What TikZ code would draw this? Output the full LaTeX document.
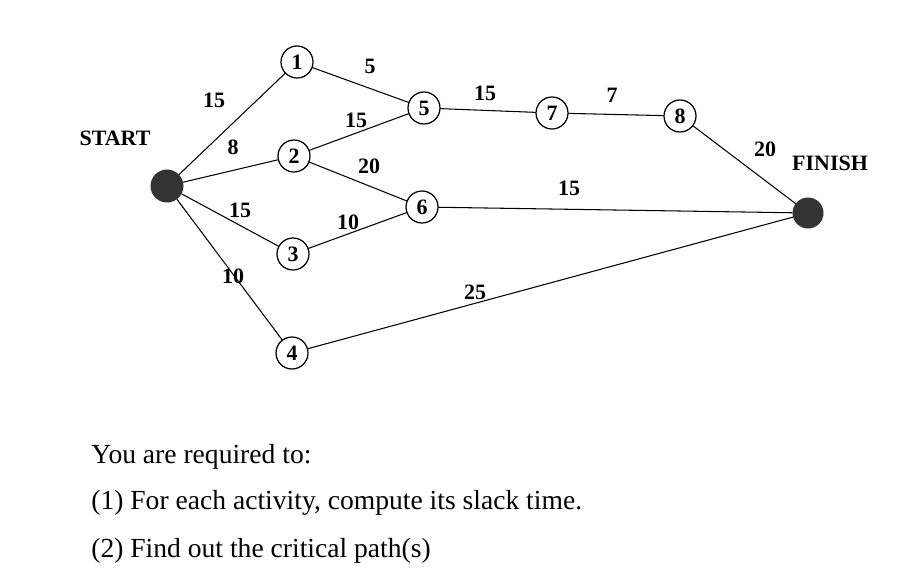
\documentclass[tikz,border=0pt]{standalone}
\usepackage{fontspec}
\setmainfont{Liberation Serif}
\usetikzlibrary{positioning}
\tikzset{
  event/.style={circle,draw,line width=0.7pt,fill=white,minimum size=0.64cm,inner sep=0pt,font=\fontsize{12.5}{12.5}\selectfont\bfseries},
  term/.style={circle,fill=black!80,minimum size=0.66cm,inner sep=0pt},
  wt/.style={font=\fontsize{12.5}{12.5}\selectfont\bfseries,inner sep=0pt},
  tag/.style={font=\fontsize{12.5}{12.5}\selectfont\bfseries,inner sep=0pt},
  ask/.style={anchor=base west,inner sep=0pt,font=\fontsize{15.7}{15.7}\selectfont}
}
\begin{document}
\begin{tikzpicture}[line cap=round,line join=round,x=0.02cm,y=-0.02cm]
\useasboundingbox (0,0) rectangle (918,575);
% events
\node [term] (start) at (167,186) {};
\node [term,minimum size=0.62cm] (finish) at (808,213) {};
\node [event] (e1) at (297,62) {1};
\node [event] (e2) at (294,156) {2};
\node [event] (e3) at (293,254) {3};
\node [event] (e4) at (292,353) {4};
\node [event] (e5) at (424,108) {5};
\node [event] (e6) at (422,207) {6};
\node [event] (e7) at (552,113) {7};
\node [event] (e8) at (680,116) {8};
\node [tag] (lstart) at (115,138) {START};
\node [tag] (lfinish) at (830,163) {FINISH};
% activities
\draw [line width=0.6pt] (start) -- (e1);
\draw [line width=0.6pt] (start) -- (e2);
\draw [line width=0.6pt] (start) -- (e3);
\draw [line width=0.6pt] (start) -- (e4);
\draw [line width=0.6pt] (e1) -- (e5);
\draw [line width=0.6pt] (e2) -- (e5);
\draw [line width=0.6pt] (e2) -- (e6);
\draw [line width=0.6pt] (e3) -- (e6);
\draw [line width=0.6pt] (e5) -- (e7);
\draw [line width=0.6pt] (e7) -- (e8);
\draw [line width=0.6pt] (e8) -- (finish);
\draw [line width=0.6pt] (e6) -- (finish);
\draw [line width=0.6pt] (e4) -- (finish);
% durations
\node [wt] (w1) at (214,100) {15};
\node [wt] (w2) at (233,147) {8};
\node [wt] (w3) at (240,210) {15};
\node [wt] (w4) at (233,276) {10};
\node [wt] (w15) at (370,66) {5};
\node [wt] (w25) at (356,120) {15};
\node [wt] (w26) at (369,166) {20};
\node [wt] (w36) at (348,222) {10};
\node [wt] (w57) at (485,93) {15};
\node [wt] (w78) at (612,95) {7};
\node [wt] (w8f) at (765,149) {20};
\node [wt] (w6f) at (569,188) {15};
\node [wt] (w4f) at (475,292) {25};
% question
\node [ask] (q0) at (91,463) {You are required to:};
\node [ask] (q1) at (91,509) {(1) For each activity, compute its slack time.};
\node [ask] (q2) at (91,557) {(2) Find out the critical path(s)};
\end{tikzpicture}
\end{document}
